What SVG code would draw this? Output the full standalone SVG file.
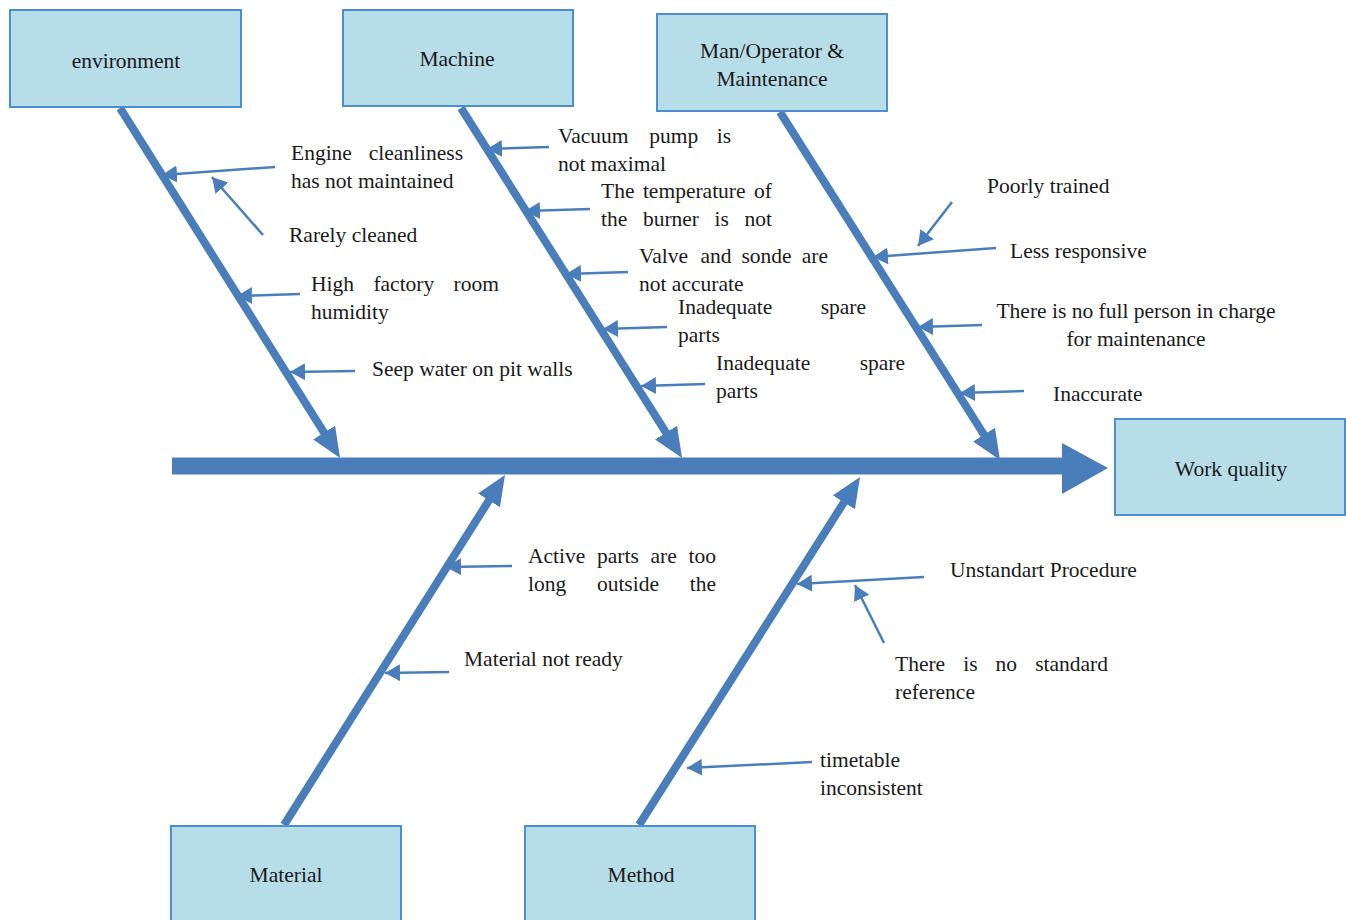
<svg xmlns="http://www.w3.org/2000/svg" width="1346" height="920" viewBox="0 0 1346 920">
<style>
.box{fill:#b7dde8;stroke:#4a90d0;stroke-width:2}
.t{font-family:"Liberation Serif","Times New Roman",serif;font-size:21.5px;fill:#1a1a1a}
.c{text-anchor:middle}
.e{text-anchor:end}
.bone{stroke:#4a7ebb;stroke-width:8;fill:none;marker-end:url(#big)}
.sm{stroke:#4a7ebb;stroke-width:2.5;fill:none;marker-end:url(#small)}
</style>
<defs>
<marker id="big" markerUnits="userSpaceOnUse" viewBox="0 0 30 26" markerWidth="30" markerHeight="26" refX="10" refY="13" orient="auto">
<path d="M0,0 L30,13 L0,26 z" fill="#4a7ebb"/>
</marker>
<marker id="small" markerUnits="userSpaceOnUse" viewBox="0 0 15 17" markerWidth="15" markerHeight="17" refX="15" refY="8.5" orient="auto">
<path d="M0,0 L15,8.5 L0,17 z" fill="#4a7ebb"/>
</marker>
</defs>
<rect width="1346" height="920" fill="#ffffff"/>
<g id="connectors">
<line x1="172" y1="466" x2="1066" y2="466" stroke="#4a7ebb" stroke-width="17"/>
<polygon points="1062,443 1108,468 1062,494" fill="#4a7ebb"/>
<line class="bone" x1="120" y1="108" x2="329.4" y2="441.1"/>
<line class="bone" x1="461" y1="108" x2="671.4" y2="441.1"/>
<line class="bone" x1="780" y1="112" x2="989.3" y2="443.1"/>
<line class="bone" x1="284" y1="825" x2="494.3" y2="491.9"/>
<line class="bone" x1="639" y1="825" x2="849.3" y2="493.9"/>
<line class="sm" x1="275" y1="167" x2="162" y2="175"/>
<line class="sm" x1="263" y1="235" x2="212" y2="177"/>
<line class="sm" x1="300" y1="294" x2="237" y2="296"/>
<line class="sm" x1="355" y1="371" x2="290" y2="372"/>
<line class="sm" x1="549" y1="147" x2="487" y2="149"/>
<line class="sm" x1="590" y1="209" x2="525" y2="211"/>
<line class="sm" x1="628" y1="272" x2="566" y2="274"/>
<line class="sm" x1="667" y1="327" x2="603" y2="329"/>
<line class="sm" x1="705" y1="384" x2="641" y2="386"/>
<line class="sm" x1="952" y1="202" x2="918" y2="246"/>
<line class="sm" x1="996" y1="248" x2="873" y2="257"/>
<line class="sm" x1="982" y1="325" x2="918" y2="327"/>
<line class="sm" x1="1024" y1="391" x2="960" y2="393"/>
<line class="sm" x1="512" y1="566" x2="446" y2="567"/>
<line class="sm" x1="449" y1="672" x2="385" y2="673"/>
<line class="sm" x1="924" y1="577" x2="797" y2="584"/>
<line class="sm" x1="884" y1="643" x2="855" y2="585"/>
<line class="sm" x1="812" y1="762" x2="687" y2="768"/>
</g>
<g id="environment"><rect class="box" x="10" y="10" width="231" height="97"/><text class="t c" x="126" y="68">environment</text></g>
<g id="machine"><rect class="box" x="343" y="10" width="230" height="96"/><text class="t c" x="457" y="66">Machine</text></g>
<g id="man"><rect class="box" x="657" y="14" width="230" height="97"/><text class="t c" x="772" y="58">Man/Operator &amp;</text><text class="t c" x="772" y="86">Maintenance</text></g>
<g id="work-quality"><rect class="box" x="1115" y="419" width="230" height="96"/><text class="t c" x="1231" y="476">Work quality</text></g>
<g id="material"><rect class="box" x="171" y="826" width="230" height="100"/><text class="t c" x="286" y="882">Material</text></g>
<g id="method"><rect class="box" x="525" y="826" width="230" height="100"/><text class="t c" x="641" y="882">Method</text></g>
<g id="env-causes">
<text class="t" x="291" y="160">Engine</text><text class="t e" x="463" y="160">cleanliness</text>
<text class="t" x="291" y="188">has not maintained</text>
<text class="t" x="289" y="242">Rarely cleaned</text>
<text class="t" x="311" y="291">High</text><text class="t" x="373.4" y="291">factory</text><text class="t e" x="499" y="291">room</text>
<text class="t" x="311" y="319">humidity</text>
<text class="t" x="372" y="376">Seep water on pit walls</text>
</g>
<g id="machine-causes">
<text class="t" x="558" y="143">Vacuum</text><text class="t" x="649.3" y="143">pump</text><text class="t e" x="731" y="143">is</text>
<text class="t" x="558" y="171">not maximal</text>
<text class="t" x="601" y="198">The</text><text class="t" x="642.9" y="198">temperature</text><text class="t e" x="772" y="198">of</text>
<text class="t" x="601" y="226">the</text><text class="t" x="642.9" y="226">burner</text><text class="t" x="714.6" y="226">is</text><text class="t e" x="772" y="226">not</text>
<text class="t" x="639" y="263">Valve</text><text class="t" x="700.4" y="263">and</text><text class="t" x="741.5" y="263">sonde</text><text class="t e" x="828" y="263">are</text>
<text class="t" x="639" y="291">not accurate</text>
<text class="t" x="678" y="314">Inadequate</text><text class="t e" x="866" y="314">spare</text>
<text class="t" x="678" y="342">parts</text>
<text class="t" x="716" y="370">Inadequate</text><text class="t e" x="905" y="370">spare</text>
<text class="t" x="716" y="398">parts</text>
</g>
<g id="man-causes">
<text class="t" x="987" y="193">Poorly trained</text>
<text class="t" x="1010" y="258">Less responsive</text>
<text class="t c" x="1136" y="318">There is no full person in charge</text>
<text class="t c" x="1136" y="346">for maintenance</text>
<text class="t" x="1053" y="401">Inaccurate</text>
</g>
<g id="material-causes">
<text class="t" x="528" y="563">Active</text><text class="t" x="597" y="563">parts</text><text class="t" x="650.5" y="563">are</text><text class="t e" x="716" y="563">too</text>
<text class="t" x="528" y="591">long</text><text class="t" x="596.9" y="591">outside</text><text class="t e" x="716" y="591">the</text>
<text class="t" x="464" y="666">Material not ready</text>
</g>
<g id="method-causes">
<text class="t" x="950" y="577">Unstandart Procedure</text>
<text class="t" x="895" y="671">There</text><text class="t" x="963.2" y="671">is</text><text class="t" x="995.6" y="671">no</text><text class="t e" x="1108" y="671">standard</text>
<text class="t" x="895" y="699">reference</text>
<text class="t" x="820" y="767">timetable</text>
<text class="t" x="820" y="795">inconsistent</text>
</g>
</svg>
